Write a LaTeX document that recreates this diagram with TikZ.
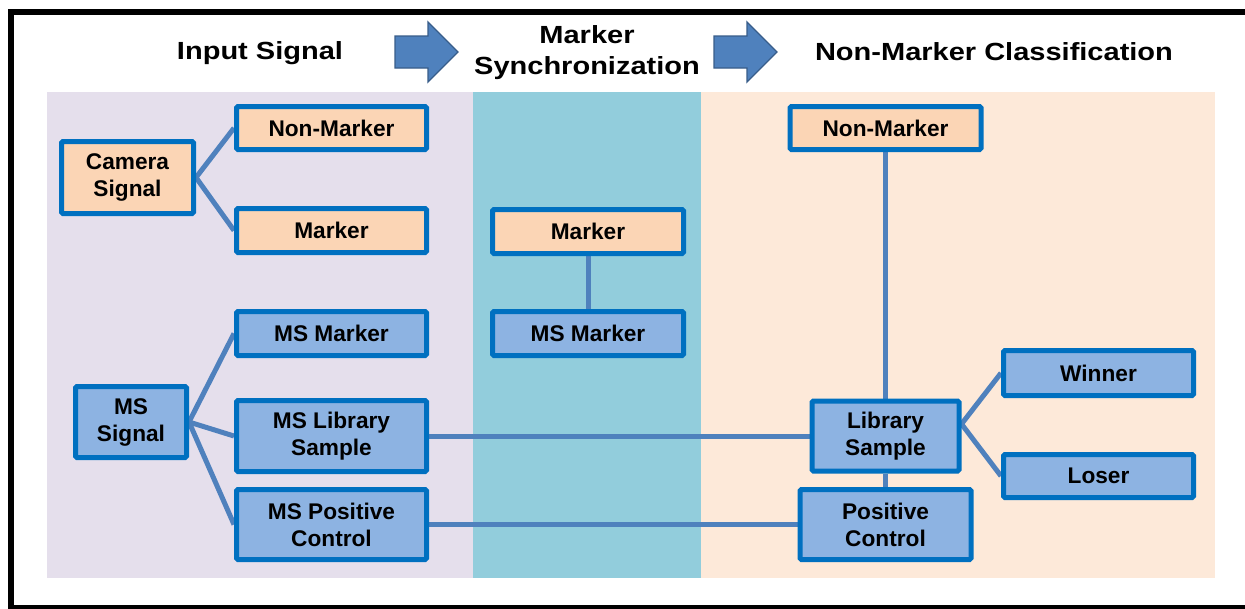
\documentclass[tikz,border=0pt]{standalone}
\usepackage{fontspec}
\setmainfont{Liberation Sans}
\newfontfamily\headfont{Liberation Sans}[FakeStretch=1.17]

\definecolor{panelA}{HTML}{E5DFEC}
\definecolor{panelB}{HTML}{92CDDC}
\definecolor{panelC}{HTML}{FDE9D9}
\definecolor{peachfill}{HTML}{FBD5B5}
\definecolor{bluefill}{HTML}{8DB3E2}
\definecolor{boxline}{HTML}{0070C0}
\definecolor{linkc}{HTML}{4F81BD}
\definecolor{arrowedge}{HTML}{385D8A}

\pgfdeclarelayer{bg}
\pgfdeclarelayer{conn}
\pgfsetlayers{bg,conn,main}

\begin{document}
\begin{tikzpicture}[x=0.75pt,y=-0.75pt,
  box/.style 2 args={draw=boxline, line width=3.75pt, rounded corners=1pt, inner sep=0pt,
    minimum width=#1*0.75pt, minimum height=#2*0.75pt,
    align=center, font=\fontsize{17}{20.25}\selectfont\bfseries},
  peachbox/.style 2 args={box={#1}{#2}, fill=peachfill},
  bluebox/.style 2 args={box={#1}{#2}, fill=bluefill},
  link/.style={draw=linkc, line width=3.75pt},
  head/.style={font=\headfont\fontsize{18.6}{23.25}\selectfont\bfseries, align=center, inner sep=0pt},
  stagearrow/.style={fill=linkc, draw=arrowedge, line width=1pt, line join=miter}]

\useasboundingbox (0,0) rectangle (1245,608);
\clip (0,0) rectangle (1245,608);

% coloured stage panels
\begin{pgfonlayer}{bg}
  \fill[white] (0,0) rectangle (1245,608);
  \fill[panelA] (47,92) rectangle (473,578);
  \fill[panelB] (473,92) rectangle (701,578);
  \fill[panelC] (701,92) rectangle (1215,578);
\end{pgfonlayer}

% outer frame
\draw[line width=4.5pt] (10.5,12) rectangle (1270,607.5);

% stage headings
\node[head, anchor=base] (h1) at (260,59) {Input Signal};
\node[head] (h2) at (587,53) {Marker\\Synchronization};
\node[head, anchor=base] (h3) at (994,60) {Non-Marker Classification};

% block arrows between the stages
\draw[stagearrow] (395,36) -- (428,36) -- (428,22) -- (458,52) -- (428,82) -- (428,68) -- (395,68) -- cycle;
\draw[stagearrow] (714,36) -- (747,36) -- (747,22) -- (777,52) -- (747,82) -- (747,68) -- (714,68) -- cycle;

% input signal stage
\node[peachbox={132}{72}] (cam) at (127.5,177.5) {Camera\\Signal};
\node[peachbox={190}{43}] (nm1) at (331.5,128) {Non-Marker};
\node[peachbox={190}{44}] (mk1) at (331.5,230.5) {Marker};
\node[bluebox={111}{71}] (mss) at (131,422) {MS\\Signal};
\node[bluebox={190}{44}] (msm1) at (331.5,333.5) {MS Marker};
\node[bluebox={190}{71}] (msl) at (331.5,436) {MS Library\\Sample};
\node[bluebox={190}{70}] (msp) at (331.5,524.5) {MS Positive\\Control};

% marker synchronization stage
\node[peachbox={191}{44}] (mk2) at (588,231.5) {Marker};
\node[bluebox={191}{44}] (msm2) at (588,333.5) {MS Marker};

% non-marker classification stage
\node[peachbox={191}{43}] (nm2) at (885.5,128) {Non-Marker};
\node[bluebox={147}{70}] (ls) at (885.5,436) {Library\\Sample};
\node[bluebox={171}{70}] (pc) at (885.5,524.5) {Positive\\Control};
\node[bluebox={190}{45}] (win) at (1098.5,373) {Winner};
\node[bluebox={190}{43}] (los) at (1098.5,476) {Loser};

% connectors
\begin{pgfonlayer}{conn}
  \draw[link] (cam.east) -- (nm1.west);
  \draw[link] (cam.east) -- (mk1.west);
  \draw[link] (mss.east) -- (msm1.west);
  \draw[link] (mss.east) -- (msl.west);
  \draw[link] (mss.east) -- (msp.west);
  \draw[link] (mk2.south) -- (msm2.north);
  \draw[link] (msl.east) -- (ls.west);
  \draw[link] (msp.east) -- (pc.west);
  \draw[link] (nm2.south) -- (ls.north);
  \draw[link] (ls.south) -- (pc.north);
  \coordinate (lsfork) at ([yshift=9pt]ls.east);
  \draw[link] (lsfork) -- (win.west);
  \draw[link] (lsfork) -- (los.west);
\end{pgfonlayer}
\end{tikzpicture}
\end{document}
